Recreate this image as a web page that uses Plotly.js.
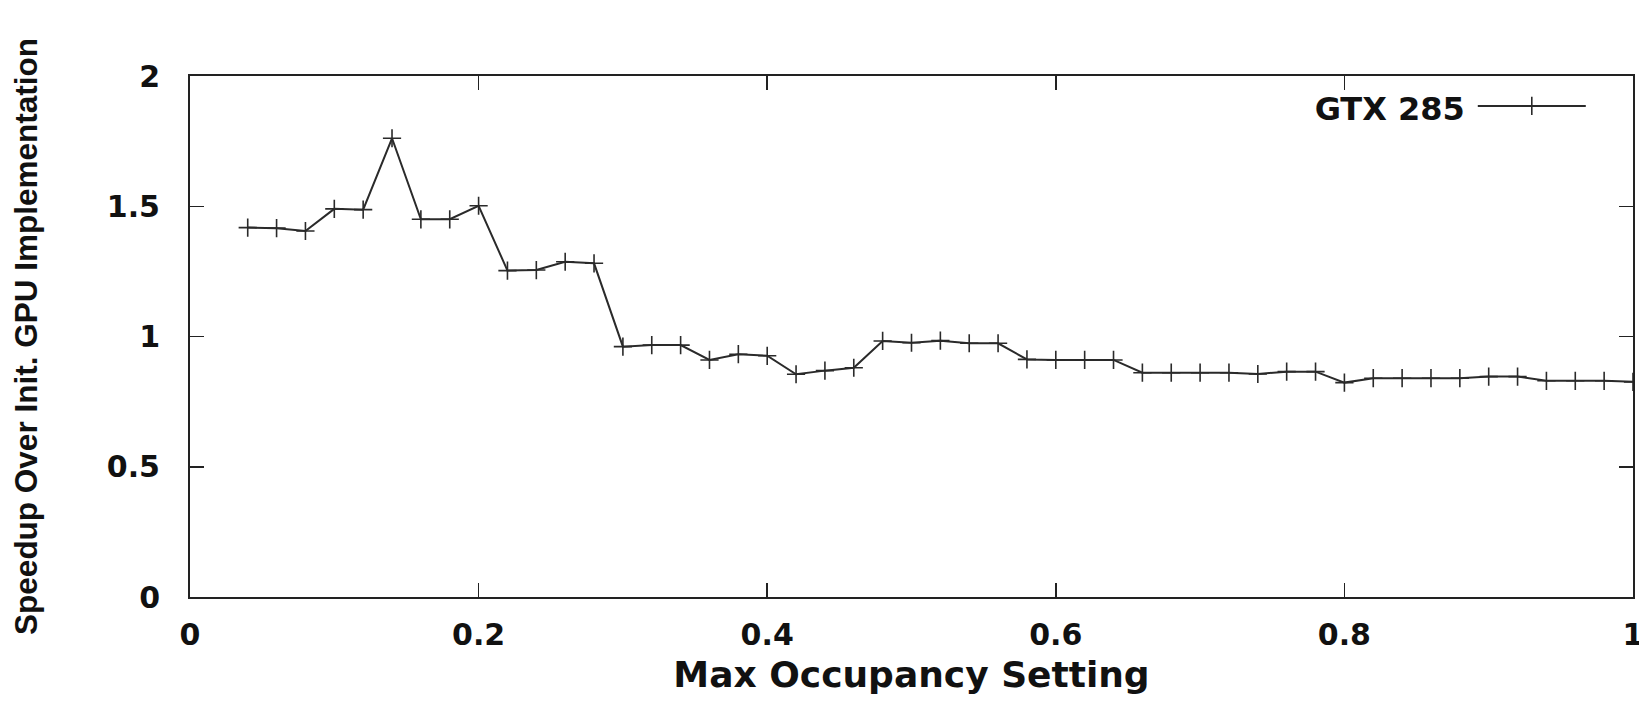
<!DOCTYPE html>
<html>
<head>
<meta charset="utf-8">
<script src="https://cdn.plot.ly/plotly-3.0.1.min.js"></script>
<style>html,body{margin:0;padding:0;background:#fff;overflow:hidden}#chart{width:1639px;height:702px}</style>
</head>
<body>
<div id="chart"></div>
<script>
const seriesName = "GTX 285";
const occupancy = [0.04,0.06,0.08,0.10,0.12,0.14,0.16,0.18,0.20,0.22,0.24,0.26,0.28,0.30,0.32,0.34,0.36,0.38,0.40,0.42,0.44,0.46,0.48,0.50,0.52,0.54,0.56,0.58,0.60,0.62,0.64,0.66,0.68,0.70,0.72,0.74,0.76,0.78,0.80,0.82,0.84,0.86,0.88,0.90,0.92,0.94,0.96,0.98,1.00];
const speedup = [1.418,1.416,1.405,1.490,1.487,1.761,1.450,1.450,1.502,1.253,1.255,1.287,1.281,0.961,0.967,0.967,0.910,0.932,0.926,0.855,0.869,0.880,0.983,0.976,0.984,0.974,0.974,0.912,0.910,0.910,0.910,0.861,0.861,0.861,0.861,0.856,0.865,0.865,0.823,0.840,0.840,0.840,0.840,0.846,0.846,0.830,0.830,0.830,0.826];
const xTicks = [0,0.2,0.4,0.6,0.8,1];
const xTickLabels = ["0","0.2","0.4","0.6","0.8","1"];
const yTicks = [0,0.5,1,1.5,2];
const yTickLabels = ["0","0.5","1","1.5","2"];
const xTitle = "Max Occupancy Setting";
const yTitle = "Speedup Over Init. GPU Implementation";

const lineColor = "#2a2a2a";
const trace = {
  x: occupancy, y: speedup, type: "scatter", mode: "lines+markers",
  name: "", showlegend: true,
  line: {color: lineColor, width: 2},
  marker: {symbol: "cross-thin-open", size: 13, color: lineColor, line: {color: lineColor, width: 1.6}}
};
const tickFont = {family: "DejaVu Sans", size: 30, color: "#111", weight: "bold"};
const layout = {
  width: 1639, height: 702,
  margin: {l: 190, r: 6, t: 76, b: 105},
  paper_bgcolor: "#fff", plot_bgcolor: "#fff",
  showlegend: true,
  legend: {
    x: 0.778, y: 0.995, xanchor: "left", yanchor: "top", xref: "paper", yref: "paper",
    bgcolor: "rgba(0,0,0,0)", borderwidth: 0,
    itemwidth: 108,
    font: {family: "DejaVu Sans", size: 32, color: "#111", weight: "bold"},
    title: {text: seriesName, side: "left", font: {family: "DejaVu Sans", size: 32, color: "#111", weight: "bold"}}
  },
  xaxis: {
    range: [0, 1], tickvals: xTicks, ticktext: xTickLabels,
    showgrid: false, zeroline: false,
    showline: true, linecolor: "#222", linewidth: 2, mirror: "ticks",
    ticks: "inside", ticklen: 14, tickwidth: 1.5, tickcolor: "#222",
    tickfont: tickFont, ticklabelstandoff: 10, ticklabeloverflow: "allow",
    title: {text: xTitle, font: {family: "DejaVu Sans", size: 36, color: "#111", weight: "bold"}, standoff: 11}
  },
  yaxis: {
    range: [0, 2], tickvals: yTicks, ticktext: yTickLabels,
    showgrid: false, zeroline: false,
    showline: true, linecolor: "#222", linewidth: 2, mirror: "ticks",
    ticks: "inside", ticklen: 14, tickwidth: 1.5, tickcolor: "#222",
    tickfont: tickFont, ticklabelstandoff: 22,
    title: {text: yTitle, font: {family: "Liberation Sans", size: 31.5, color: "#111", weight: "bold"}, standoff: 60}
  }
};
Plotly.newPlot("chart", [trace], layout, {displayModeBar: false, staticPlot: true});
</script>
</body>
</html>
